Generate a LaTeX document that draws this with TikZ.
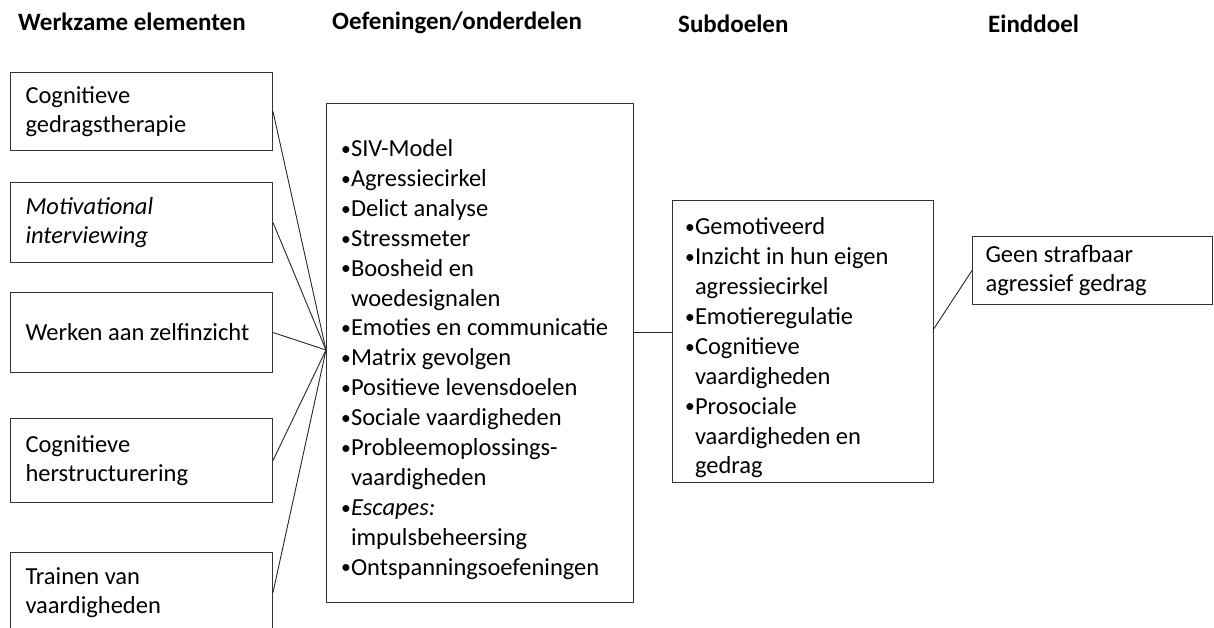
\documentclass[tikz,border=0pt]{standalone}
\usepackage{fontspec}
\setmainfont{Carlito}
\usetikzlibrary{positioning, calc}
\tikzset{
    elem/.style={draw=black!80, line width=1pt, anchor=north west, align=flush left, text width=232pt, inner xsep=15pt, inner ysep=0pt, minimum height=80pt, font=\fontsize{24.5}{29}\selectfont},
    listbox/.style={draw=black!80, line width=1pt, anchor=north west, align=flush left, inner ysep=0pt, font=\fontsize{24.5}{29.9}\selectfont},
    head/.style={anchor=base west, font=\bfseries\fontsize{25}{30}\selectfont, inner sep=0pt},
    link/.style={draw=black!85, line width=0.9pt}
}
\newcommand{\bul}[1]{\par\noindent\hangindent=8pt\hangafter=1\makebox[8pt][l]{\hspace{-2pt}\raisebox{0.05em}{\scalebox{0.8}{\textbullet}}}#1}

\begin{document}
\begin{tikzpicture}[x=1pt, y=-1pt]
        \useasboundingbox (0,0) rectangle (1214,628);
        % Kolomkoppen
        \node [head] (h1) at (18,31) {Werkzame elementen};
        \node [head] (h2) at (332,30) {Oefeningen/onderdelen};
        \node [head] (h3) at (678,33) {Subdoelen};
        \node [head] (h4) at (988,33) {Einddoel};

        % Werkzame elementen
        \node [elem, minimum height=78pt] (cgt) at (10,72) {Cognitieve\\gedragstherapie};
        \node [elem] (mi) at (10,182) {\itshape Motivational\\interviewing};
        \node [elem] (zelf) at (10,292) {Werken aan zelfinzicht};
        \node [elem, minimum height=84pt] (herstr) at (10,418) {Cognitieve\\herstructurering};
        \node [elem] (train) at (10,552) {Trainen van\\vaardigheden};

        % Oefeningen
        \node [listbox, text width=274pt, inner xsep=16.5pt, minimum height=499pt] (oef) at (326,103) {%
            \bul{SIV-Model}
            \bul{Agressiecirkel}
            \bul{Delict analyse}
            \bul{Stressmeter}
            \bul{Boosheid en\newline woedesignalen}
            \bul{Emoties en communicatie}
            \bul{Matrix gevolgen}
            \bul{Positieve levensdoelen}
            \bul{Sociale vaardigheden}
            \bul{Probleemoplossings-\newline vaardigheden}
            \bul{\textit{Escapes:}\newline impulsbeheersing}
            \bul{Ontspanningsoefeningen}\par};

        % Subdoelen
        \node [listbox, text width=232pt, inner xsep=14.5pt, minimum height=282pt] (sub) at (672,200) {%
            \bul{Gemotiveerd}
            \bul{Inzicht in hun eigen\newline agressiecirkel}
            \bul{Emotieregulatie}
            \bul{Cognitieve\newline vaardigheden}
            \bul{Prosociale\newline vaardigheden en\newline gedrag}\par};

        % Einddoel
        \node [elem, text width=214pt, inner xsep=13pt, minimum height=68pt] (eind) at (972,236) {Geen strafbaar\\agressief gedrag};

        % Verbindingen
        \coordinate (samen) at (326,350);
        \foreach \n in {cgt, mi, zelf, herstr, train}
            \draw [link] (\n.east) -- (samen);
        \coordinate (j1) at (633,332);
        \draw [link] (j1) -- (j1 -| sub.west);
        \coordinate (j2) at (933,330);
        \draw [link] (j2) -- (eind.west);
    \end{tikzpicture}
\end{document}
